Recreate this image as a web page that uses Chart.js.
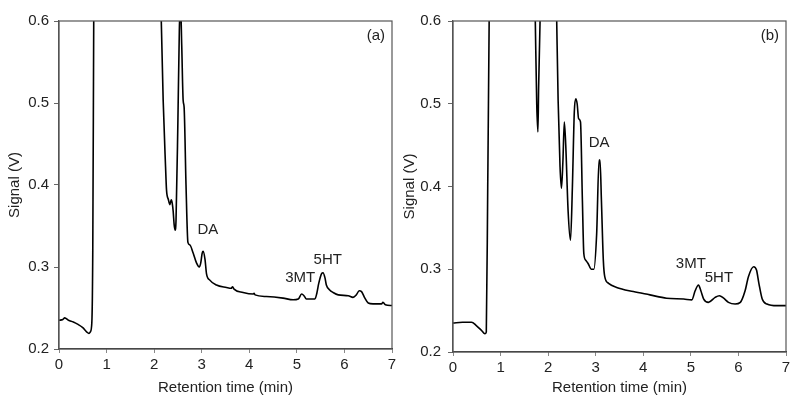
<!DOCTYPE html>
<html>
<head>
<meta charset="utf-8">
<script src="https://cdn.jsdelivr.net/npm/chart.js@4/dist/chart.umd.min.js"></script>
<style>
  html, body { margin: 0; padding: 0; background: #fff; }
  #wrap { width: 800px; height: 400px; display: flex; }
  .panel { width: 400px; height: 400px; position: relative; }
</style>
</head>
<body>
<div id="wrap">
  <div class="panel"><canvas id="ca"></canvas></div>
  <div class="panel"><canvas id="cb"></canvas></div>
</div>
<script>
// Panel (a): retention time (min) and signal (V)
const timeA = [0.00,0.08,0.12,0.20,0.30,0.40,0.50,0.58,0.63,0.66,0.69,0.71,0.73,0.76,1.20,1.90,2.12,2.15,2.19,2.24,2.26,2.30,2.33,2.36,2.38,2.40,2.42,2.44,2.46,2.50,2.53,2.555,2.58,2.61,2.63,2.67,2.71,2.75,2.82,2.89,2.95,2.98,3.01,3.03,3.07,3.10,3.17,3.31,3.52,3.62,3.65,3.68,3.87,4.08,4.10,4.12,4.36,4.71,4.92,5.03,5.10,5.15,5.20,5.38,5.42,5.46,5.52,5.55,5.59,5.62,5.69,5.76,5.87,6.08,6.18,6.25,6.31,6.36,6.43,6.50,6.60,6.78,6.81,6.86,7.00];
const signalA = [0.235,0.236,0.238,0.235,0.233,0.230,0.226,0.221,0.219,0.221,0.232,0.32,0.60,0.95,1.2,1.2,0.72,0.60,0.503,0.422,0.394,0.382,0.376,0.382,0.378,0.368,0.352,0.345,0.357,0.48,0.59,0.62,0.57,0.503,0.495,0.40,0.330,0.327,0.317,0.305,0.300,0.305,0.317,0.319,0.309,0.292,0.284,0.278,0.275,0.274,0.276,0.273,0.269,0.267,0.268,0.266,0.264,0.262,0.260,0.261,0.267,0.265,0.261,0.261,0.268,0.280,0.292,0.293,0.287,0.278,0.272,0.269,0.266,0.265,0.263,0.266,0.271,0.270,0.262,0.256,0.255,0.255,0.257,0.254,0.253];

// Panel (b)
const timeB = [0.00,0.20,0.39,0.49,0.60,0.67,0.70,0.73,0.76,0.80,1.20,1.60,1.70,1.73,1.76,1.785,1.80,1.83,1.87,2.00,2.15,2.18,2.21,2.25,2.28,2.31,2.34,2.37,2.42,2.47,2.51,2.55,2.58,2.61,2.64,2.68,2.72,2.75,2.79,2.84,2.91,2.96,3.02,3.07,3.09,3.12,3.16,3.19,3.27,3.44,3.79,4.14,4.49,4.85,5.02,5.09,5.16,5.21,5.27,5.37,5.51,5.60,5.69,5.79,5.93,6.04,6.14,6.21,6.32,6.38,6.43,6.50,6.60,6.81,7.00];
const signalB = [0.235,0.236,0.236,0.232,0.226,0.222,0.224,0.40,0.60,0.95,1.2,1.0,0.70,0.60,0.50,0.466,0.52,0.60,0.75,0.9,0.70,0.60,0.504,0.424,0.398,0.43,0.478,0.45,0.37,0.335,0.40,0.49,0.506,0.500,0.482,0.478,0.383,0.319,0.311,0.307,0.300,0.300,0.343,0.432,0.432,0.383,0.311,0.291,0.283,0.278,0.273,0.269,0.265,0.264,0.263,0.274,0.281,0.274,0.264,0.260,0.266,0.268,0.265,0.260,0.258,0.260,0.274,0.291,0.303,0.299,0.283,0.264,0.258,0.256,0.256];

// Tick values
const xTicks = [0,1,2,3,4,5,6,7];
const yTicks = [0.2,0.3,0.4,0.5,0.6];

// Peak labels (text, time, signal)
const labelTextA = ['(a)','DA','3MT','5HT'];
const labelTimeA = [6.66,3.13,5.07,5.65];
const labelSigA  = [0.582,0.345,0.287,0.309];
const labelTextB = ['(b)','DA','3MT','5HT'];
const labelTimeB = [6.66,3.07,5.00,5.59];
const labelSigB  = [0.582,0.453,0.307,0.289];

const FONT = 'Liberation Sans, Arial, sans-serif';
const TXT = '#222';
const FS = 15;

const framePlugin = {
  id: 'frameAndLabels',
  afterDatasetsDraw(chart, args, opts) {
    const {ctx, chartArea: a, scales} = chart;
    ctx.save();
    ctx.strokeStyle = '#555';
    ctx.lineWidth = 1.2;
    ctx.strokeRect(a.left, a.top, a.right - a.left, a.bottom - a.top);
    ctx.fillStyle = TXT;
    ctx.font = FS + 'px ' + FONT;
    ctx.textAlign = 'center';
    ctx.textBaseline = 'middle';
    for (let i = 0; i < opts.texts.length; i++) {
      ctx.fillText(opts.texts[i], scales.x.getPixelForValue(opts.xs[i]), scales.y.getPixelForValue(opts.ys[i]));
    }
    ctx.restore();
  }
};

function makeChart(id, xs, ys, texts, lx, ly, geo) {
  const pts = xs.map((t, i) => ({x: t, y: ys[i]}));
  return new Chart(document.getElementById(id), {
    type: 'line',
    data: { datasets: [{ data: pts, borderColor: '#000', borderWidth: 1.6, pointRadius: 0, cubicInterpolationMode: 'monotone', fill: false }] },
    options: {
      responsive: false, animation: false,
      layout: { padding: { top: geo.top, right: geo.right, left: 0, bottom: 0 } },
      plugins: { legend: { display: false }, tooltip: { enabled: false },
        frameAndLabels: { texts: texts, xs: lx, ys: ly } },
      scales: {
        x: {
          type: 'linear', min: 0, max: 7,
          afterBuildTicks: (ax) => { ax.ticks = xTicks.map(v => ({value: v})); },
          afterFit: (ax) => { ax.height = geo.xh; },
          ticks: { color: TXT, font: { family: FONT, size: FS }, padding: 3, maxRotation: 0, callback: v => String(v) },
          grid: { drawOnChartArea: false, drawTicks: true, tickLength: 4, color: '#888' },
          border: { display: true, color: '#333', width: 1.2 },
          title: { display: true, text: 'Retention time (min)', color: TXT, font: { family: FONT, size: FS }, padding: { top: 0, bottom: 3 } }
        },
        y: {
          type: 'linear', min: 0.2, max: 0.6,
          afterBuildTicks: (ax) => { ax.ticks = yTicks.map(v => ({value: v})); },
          afterFit: (ax) => { ax.width = geo.yw; },
          ticks: { color: TXT, font: { family: FONT, size: FS }, padding: geo.ypad, callback: v => v.toFixed(1) },
          grid: { drawOnChartArea: false, drawTicks: true, tickLength: 5, color: '#666' },
          border: { display: true, color: '#555', width: 1.2 },
          title: { display: true, text: 'Signal (V)', color: TXT, font: { family: FONT, size: FS }, padding: { top: geo.ytp, bottom: 0 } }
        }
      }
    },
    plugins: [framePlugin]
  });
}

document.getElementById('ca').width = 400; document.getElementById('ca').height = 400;
document.getElementById('cb').width = 400; document.getElementById('cb').height = 400;

makeChart('ca', timeA, signalA, labelTextA, labelTimeA, labelSigA, { top: 21, right: 8, xh: 51, yw: 59, ypad: 5, ytp: 6 });
makeChart('cb', timeB, signalB, labelTextB, labelTimeB, labelSigB, { top: 21, right: 14, xh: 48, yw: 53, ypad: 7, ytp: 1 });
</script>
</body>
</html>
